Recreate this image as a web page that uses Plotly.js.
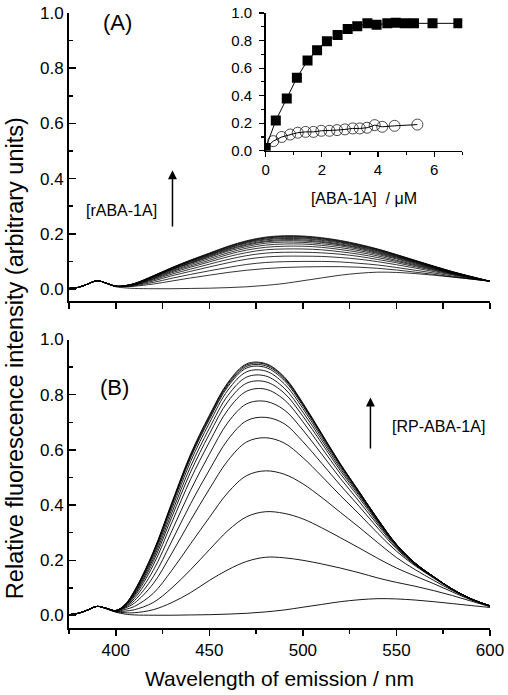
<!DOCTYPE html>
<html>
<head>
<meta charset="utf-8">
<script src="https://cdn.plot.ly/plotly-3.0.1.min.js"></script>
<style>
  html, body { margin: 0; padding: 0; background: #fff; }
  #chart { width: 508px; height: 695px; }
</style>
</head>
<body>
<div id="chart"></div>
<script>
// Emission wavelengths (nm)
const wavelength = [375,380,385,390,395,400,405,410,420,430,440,450,460,470,480,490,500,510,520,530,540,550,560,570,580,590,600];

// Panel (A): spectra with increasing [rABA-1A]
const specA00 = [0.002,0.006,0.018,0.030,0.020,0.008,0.004,0.002,0.001,0.001,0.002,0.003,0.005,0.008,0.013,0.020,0.030,0.040,0.050,0.057,0.061,0.060,0.056,0.050,0.043,0.036,0.029];
const specA01 = [0.002,0.006,0.018,0.030,0.021,0.010,0.008,0.010,0.018,0.029,0.040,0.050,0.060,0.068,0.074,0.078,0.080,0.081,0.081,0.079,0.075,0.069,0.061,0.053,0.044,0.036,0.028];
const specA02 = [0.002,0.006,0.018,0.030,0.021,0.010,0.009,0.012,0.024,0.039,0.053,0.066,0.078,0.089,0.096,0.099,0.100,0.100,0.098,0.093,0.087,0.078,0.068,0.058,0.047,0.037,0.028];
const specA03 = [0.002,0.006,0.018,0.030,0.021,0.010,0.010,0.014,0.029,0.048,0.064,0.080,0.095,0.108,0.116,0.119,0.119,0.118,0.114,0.108,0.099,0.088,0.076,0.063,0.051,0.039,0.028];
const specA04 = [0.002,0.006,0.018,0.030,0.021,0.010,0.010,0.015,0.033,0.054,0.072,0.090,0.107,0.121,0.130,0.133,0.133,0.131,0.126,0.118,0.107,0.095,0.081,0.067,0.053,0.040,0.028];
const specA05 = [0.002,0.006,0.018,0.030,0.021,0.010,0.011,0.016,0.036,0.059,0.079,0.098,0.117,0.132,0.142,0.145,0.145,0.142,0.135,0.126,0.114,0.100,0.085,0.070,0.055,0.041,0.028];
const specA06 = [0.002,0.006,0.018,0.030,0.021,0.010,0.011,0.017,0.038,0.063,0.084,0.104,0.125,0.141,0.151,0.155,0.155,0.151,0.143,0.133,0.120,0.104,0.088,0.072,0.056,0.042,0.028];
const specA07 = [0.002,0.006,0.018,0.030,0.021,0.010,0.011,0.017,0.040,0.066,0.089,0.110,0.131,0.148,0.159,0.163,0.163,0.158,0.150,0.139,0.125,0.109,0.091,0.074,0.057,0.042,0.028];
const specA08 = [0.002,0.006,0.018,0.030,0.021,0.010,0.011,0.018,0.042,0.069,0.093,0.115,0.137,0.154,0.166,0.170,0.169,0.164,0.156,0.144,0.129,0.112,0.094,0.076,0.058,0.043,0.028];
const specA09 = [0.002,0.006,0.018,0.030,0.021,0.010,0.011,0.018,0.043,0.071,0.095,0.118,0.141,0.159,0.171,0.175,0.174,0.169,0.160,0.148,0.132,0.115,0.096,0.077,0.059,0.043,0.028];
const specA10 = [0.002,0.006,0.018,0.030,0.021,0.010,0.012,0.019,0.044,0.072,0.097,0.121,0.144,0.162,0.174,0.179,0.178,0.172,0.163,0.151,0.135,0.117,0.098,0.079,0.060,0.044,0.028];
const specA11 = [0.002,0.006,0.018,0.030,0.021,0.010,0.012,0.019,0.045,0.074,0.100,0.123,0.147,0.166,0.178,0.183,0.182,0.176,0.167,0.154,0.138,0.119,0.099,0.080,0.061,0.044,0.028];
const specA12 = [0.002,0.006,0.018,0.030,0.021,0.010,0.012,0.019,0.046,0.075,0.101,0.125,0.149,0.169,0.181,0.186,0.185,0.179,0.170,0.156,0.140,0.121,0.101,0.081,0.061,0.044,0.028];
const specA13 = [0.002,0.006,0.018,0.030,0.021,0.010,0.012,0.019,0.047,0.076,0.103,0.127,0.152,0.171,0.184,0.189,0.188,0.182,0.172,0.159,0.142,0.123,0.102,0.082,0.062,0.044,0.028];
const specA14 = [0.002,0.006,0.018,0.030,0.021,0.010,0.012,0.020,0.047,0.077,0.104,0.129,0.153,0.173,0.186,0.191,0.190,0.184,0.174,0.160,0.144,0.124,0.103,0.082,0.062,0.045,0.028];
const specA15 = [0.002,0.006,0.018,0.030,0.021,0.010,0.012,0.020,0.048,0.078,0.105,0.130,0.155,0.175,0.188,0.193,0.192,0.186,0.176,0.162,0.145,0.125,0.104,0.083,0.063,0.045,0.028];

// Panel (B): spectra with increasing [RP-ABA-1A]
const specB00 = [0.003,0.008,0.020,0.033,0.024,0.012,0.005,0.002,0.001,0.001,0.002,0.003,0.005,0.008,0.013,0.020,0.030,0.040,0.050,0.057,0.061,0.060,0.056,0.050,0.043,0.036,0.029];
const specB01 = [0.003,0.008,0.020,0.033,0.025,0.014,0.010,0.010,0.021,0.047,0.083,0.127,0.166,0.196,0.211,0.209,0.200,0.187,0.172,0.155,0.136,0.120,0.106,0.090,0.072,0.052,0.032];
const specB02 = [0.003,0.008,0.020,0.033,0.025,0.014,0.016,0.021,0.047,0.100,0.166,0.238,0.308,0.358,0.376,0.370,0.350,0.318,0.282,0.245,0.207,0.172,0.143,0.115,0.085,0.056,0.033];
const specB03 = [0.003,0.008,0.020,0.033,0.025,0.014,0.022,0.033,0.080,0.164,0.260,0.355,0.446,0.507,0.524,0.512,0.477,0.428,0.374,0.320,0.264,0.210,0.166,0.127,0.090,0.058,0.034];
const specB04 = [0.003,0.008,0.020,0.033,0.025,0.016,0.027,0.045,0.115,0.226,0.345,0.458,0.562,0.629,0.644,0.625,0.572,0.505,0.435,0.368,0.298,0.233,0.180,0.135,0.093,0.059,0.034];
const specB05 = [0.003,0.008,0.020,0.033,0.026,0.016,0.030,0.054,0.140,0.270,0.405,0.527,0.638,0.706,0.718,0.695,0.630,0.552,0.472,0.396,0.317,0.242,0.183,0.137,0.094,0.059,0.034];
const specB06 = [0.003,0.008,0.020,0.033,0.026,0.017,0.032,0.062,0.163,0.307,0.454,0.584,0.700,0.767,0.776,0.745,0.672,0.585,0.497,0.414,0.328,0.247,0.185,0.138,0.094,0.060,0.035];
const specB07 = [0.003,0.008,0.020,0.033,0.026,0.017,0.034,0.069,0.182,0.338,0.494,0.628,0.746,0.813,0.820,0.782,0.702,0.608,0.514,0.427,0.335,0.251,0.187,0.139,0.094,0.060,0.035];
const specB08 = [0.003,0.008,0.020,0.033,0.026,0.018,0.036,0.074,0.195,0.358,0.520,0.657,0.776,0.842,0.847,0.806,0.722,0.625,0.525,0.435,0.340,0.253,0.188,0.139,0.095,0.060,0.035];
const specB09 = [0.003,0.008,0.020,0.033,0.026,0.018,0.037,0.078,0.205,0.373,0.540,0.678,0.798,0.864,0.868,0.824,0.737,0.636,0.533,0.440,0.343,0.255,0.189,0.140,0.095,0.060,0.035];
const specB10 = [0.003,0.008,0.020,0.033,0.026,0.018,0.038,0.082,0.214,0.387,0.558,0.697,0.817,0.883,0.886,0.840,0.750,0.645,0.540,0.444,0.346,0.256,0.189,0.140,0.095,0.060,0.035];
const specB11 = [0.003,0.008,0.020,0.033,0.026,0.018,0.039,0.085,0.221,0.398,0.571,0.710,0.830,0.897,0.899,0.852,0.759,0.652,0.545,0.447,0.348,0.257,0.190,0.140,0.095,0.060,0.035];
const specB12 = [0.003,0.008,0.020,0.033,0.026,0.018,0.039,0.087,0.225,0.403,0.577,0.716,0.836,0.903,0.905,0.858,0.764,0.656,0.547,0.448,0.349,0.257,0.190,0.140,0.095,0.060,0.035];
const specB13 = [0.003,0.008,0.020,0.033,0.026,0.018,0.040,0.089,0.228,0.407,0.581,0.721,0.841,0.908,0.910,0.862,0.767,0.658,0.549,0.449,0.349,0.258,0.190,0.140,0.095,0.060,0.035];
const specB14 = [0.003,0.008,0.020,0.033,0.026,0.018,0.040,0.090,0.230,0.410,0.585,0.725,0.845,0.912,0.913,0.865,0.770,0.660,0.550,0.450,0.350,0.258,0.190,0.140,0.095,0.060,0.035];

// Inset: intensity vs concentration
const concSquares = [0.0,0.36,0.75,1.11,1.49,1.83,2.18,2.56,2.92,3.26,3.62,3.95,4.33,4.63,4.95,5.28,5.94,6.86];
const intSquares  = [0.02,0.22,0.38,0.53,0.655,0.73,0.795,0.84,0.884,0.903,0.925,0.915,0.925,0.93,0.925,0.925,0.925,0.925];
const concCircles = [0.0,0.27,0.57,0.87,1.14,1.42,1.70,1.98,2.27,2.54,2.82,3.10,3.35,3.61,3.88,4.15,4.59,5.40];
const intCircles  = [0.02,0.07,0.10,0.118,0.131,0.137,0.137,0.145,0.145,0.15,0.155,0.162,0.162,0.167,0.186,0.174,0.181,0.19];

const panelASpectra = [specA00,specA01,specA02,specA03,specA04,specA05,specA06,specA07,specA08,specA09,specA10,specA11,specA12,specA13,specA14,specA15];
const panelBSpectra = [specB00,specB01,specB02,specB03,specB04,specB05,specB06,specB07,specB08,specB09,specB10,specB11,specB12,specB13,specB14];

const FONT = 'Liberation Sans, Arial, sans-serif';
const traces = [];
panelASpectra.forEach(s => traces.push({
  x: wavelength, y: s, xaxis: 'x', yaxis: 'y', type: 'scatter', mode: 'lines',
  line: {color: '#000', width: 0.8, shape: 'spline', smoothing: 1}, hoverinfo: 'skip', showlegend: false
}));
panelBSpectra.forEach(s => traces.push({
  x: wavelength, y: s, xaxis: 'x2', yaxis: 'y2', type: 'scatter', mode: 'lines',
  line: {color: '#000', width: 0.9, shape: 'spline', smoothing: 1}, hoverinfo: 'skip', showlegend: false
}));
traces.push({
  x: concSquares, y: intSquares, xaxis: 'x3', yaxis: 'y3', type: 'scatter', mode: 'lines+markers',
  line: {color: '#000', width: 1}, marker: {symbol: 'square', size: 10, color: '#000'},
  hoverinfo: 'skip', showlegend: false
});
traces.push({
  x: concCircles, y: intCircles, xaxis: 'x3', yaxis: 'y3', type: 'scatter', mode: 'lines+markers',
  line: {color: '#000', width: 1},
  marker: {symbol: 'circle-open', size: concCircles.map((c, i) => i === 0 ? 0 : 11), color: '#000', line: {width: 1, color: '#000'}},
  hoverinfo: 'skip', showlegend: false
});

const tickFont = {family: FONT, size: 17, color: '#000'};
const insetFont = {family: FONT, size: 15, color: '#000'};
const baseAxis = {showgrid: false, zeroline: false, showline: true, linecolor: '#000', linewidth: 2,
  tickcolor: '#000', tickwidth: 1.5, mirror: false, fixedrange: true};

const layout = {
  width: 508, height: 695,
  margin: {l: 69, r: 18, t: 13, b: 67},
  paper_bgcolor: '#fff', plot_bgcolor: 'rgba(0,0,0,0)',
  font: {family: FONT, color: '#000'},
  showlegend: false,
  xaxis: Object.assign({}, baseAxis, {domain: [0, 1], anchor: 'y', range: [375, 600],
    ticks: 'outside', ticklen: 6, tick0: 375, dtick: 25, showticklabels: false}),
  yaxis: Object.assign({}, baseAxis, {domain: [0.5325, 1], anchor: 'x', range: [-0.0417, 1],
    ticks: 'inside', ticklen: 7, tick0: 0, dtick: 0.2, tickformat: '.1f', tickfont: tickFont,
    minor: {ticks: 'inside', ticklen: 4, dtick: 0.1, tick0: 0, tickwidth: 1.5, tickcolor: '#000', showgrid: false}}),
  xaxis2: Object.assign({}, baseAxis, {domain: [0, 1], anchor: 'y2', range: [375, 600],
    ticks: 'outside', ticklen: 6, tick0: 400, dtick: 50, tickfont: tickFont,
    minor: {ticks: 'outside', ticklen: 4, dtick: 25, tick0: 375, tickwidth: 1.5, tickcolor: '#000', showgrid: false},
    title: {text: 'Wavelength of emission / nm', font: {family: FONT, size: 21, color: '#000'}, standoff: 12}}),
  yaxis2: Object.assign({}, baseAxis, {domain: [0, 0.4691], anchor: 'x2', range: [-0.0453, 1],
    ticks: 'inside', ticklen: 7, tick0: 0, dtick: 0.2, tickformat: '.1f', tickfont: tickFont,
    minor: {ticks: 'inside', ticklen: 4, dtick: 0.1, tick0: 0, tickwidth: 1.5, tickcolor: '#000', showgrid: false}}),
  xaxis3: Object.assign({}, baseAxis, {domain: [0.4672, 0.9342], anchor: 'y3', range: [0, 7],
    linewidth: 1.5, tickwidth: 1.2,
    ticks: 'outside', ticklen: 5, tick0: 0, dtick: 2, tickfont: insetFont,
    minor: {ticks: 'outside', ticklen: 3, dtick: 1, tick0: 0, tickwidth: 1.2, tickcolor: '#000', showgrid: false},
    title: {text: '[ABA-1A]  / μM', font: {family: FONT, size: 16, color: '#000'}, standoff: 15}}),
  yaxis3: Object.assign({}, baseAxis, {domain: [0.776, 1.0], anchor: 'x3', range: [0, 1],
    linewidth: 1.5, tickwidth: 1.2, ticklabelstandoff: 4,
    ticks: 'outside', ticklen: 5, tick0: 0, dtick: 0.2, tickformat: '.1f', tickfont: insetFont,
    minor: {ticks: 'outside', ticklen: 3, dtick: 0.1, tick0: 0, tickwidth: 1.2, tickcolor: '#000', showgrid: false}}),
  annotations: [
    {text: 'Relative fluorescence intensity (arbitrary units)', xref: 'paper', yref: 'paper',
     x: -0.128, y: 0.439, textangle: -90, showarrow: false, xanchor: 'center', yanchor: 'middle',
     font: {family: FONT, size: 23.5, color: '#000'}},
    {text: '(A)', xref: 'x', yref: 'y', x: 401, y: 0.967, showarrow: false,
     font: {family: FONT, size: 22, color: '#000'}},
    {text: '(B)', xref: 'x2', yref: 'y2', x: 399.5, y: 0.826, showarrow: false,
     font: {family: FONT, size: 22, color: '#000'}},
    {text: '[rABA-1A]', xref: 'x', yref: 'y', x: 403.3, y: 0.286, showarrow: false,
     font: {family: FONT, size: 16, color: '#000'}},
    {text: '[RP-ABA-1A]', xref: 'x2', yref: 'y2', x: 572.7, y: 0.683, showarrow: false,
     font: {family: FONT, size: 16, color: '#000'}},
    {text: '', xref: 'x', yref: 'y', x: 430.3, y: 0.43, axref: 'x', ayref: 'y', ax: 430.3, ay: 0.221,
     showarrow: true, arrowhead: 2, arrowsize: 1.2, arrowwidth: 1.5, arrowcolor: '#000', standoff: 0, startstandoff: 0},
    {text: '', xref: 'x2', yref: 'y2', x: 536.1, y: 0.79, axref: 'x2', ayref: 'y2', ax: 536.1, ay: 0.60,
     showarrow: true, arrowhead: 2, arrowsize: 1.2, arrowwidth: 1.5, arrowcolor: '#000', standoff: 0, startstandoff: 0}
  ]
};

Plotly.newPlot('chart', traces, layout, {displayModeBar: false, staticPlot: true});
</script>
</body>
</html>
